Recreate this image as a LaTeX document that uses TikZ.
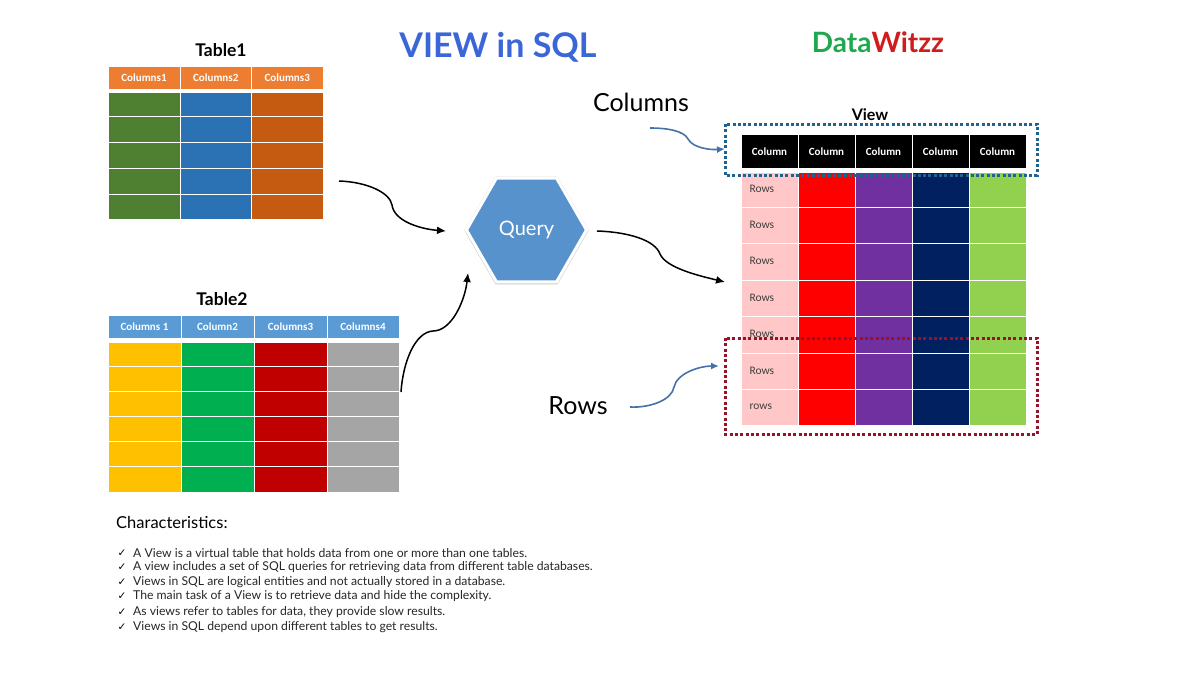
\documentclass[tikz,border=0pt]{standalone}
\usepackage{fontspec}
\usepackage{xcolor}
\setmainfont{Lato}
\newfontfamily\cellfont{Carlito}
\newfontfamily\tickfont{DejaVu Sans}
\usetikzlibrary{shapes.geometric,shadows,arrows.meta}
\definecolor{orangehead}{HTML}{ED7D31}
\definecolor{greenone}{HTML}{4F7F30}
\definecolor{blueone}{HTML}{2B72B5}
\definecolor{orangeone}{HTML}{C55A11}
\definecolor{bluehead}{HTML}{5B9BD5}
\definecolor{amber}{HTML}{FFC000}
\definecolor{greentwo}{HTML}{00B050}
\definecolor{redtwo}{HTML}{C00000}
\definecolor{greytwo}{HTML}{A5A5A5}
\definecolor{pinkrow}{HTML}{FFC7C7}
\definecolor{purplerow}{HTML}{7030A0}
\definecolor{navyrow}{HTML}{002060}
\definecolor{limerow}{HTML}{92D050}
\definecolor{queryblue}{HTML}{5792CD}
\definecolor{titleblue}{HTML}{3A66D8}
\definecolor{notearrow}{HTML}{4472A8}
\definecolor{boxblue}{HTML}{1F6391}
\definecolor{boxred}{HTML}{98102A}
\definecolor{witzgreen}{HTML}{1FA84F}
\definecolor{witzred}{HTML}{D01C1C}
\tikzset{
  cell/.style={draw=white, line width=1pt},
  headcell/.style={text=white, font=\cellfont\bfseries\fontsize{11}{12}\selectfont},
  rowcell/.style={text=black!75, anchor=west, font=\cellfont\fontsize{11.5}{12}\selectfont},
  heading/.style={font=\bfseries\fontsize{17.5}{20}\selectfont},
  flowarrow/.style={-{Latex[length=9pt,width=8pt]}, line width=1.5pt},
  notearrowline/.style={-{Latex[length=8pt,width=7pt]}, notearrow, line width=1.6pt},
  dotbox/.style={line width=3pt, dash pattern=on 3pt off 2.3pt},
  charline/.style={anchor=west, text=black!85, font=\fontsize{12.2}{14}\selectfont},
}
\begin{document}
\begin{tikzpicture}[x=1pt, y=-1pt]
\useasboundingbox (0,0) rectangle (1200,675);
% titles
\node[font=\bfseries\fontsize{34}{40}\selectfont, text=titleblue] (title) at (498,47) {VIEW in SQL};
\node[font=\bfseries\fontsize{28}{33}\selectfont] (brand) at (878,42) {\textcolor{witzgreen}{Data}\textcolor{witzred}{Witzz}};
% Table1
\node[heading] (tablea) at (221,50) {Table1};
\foreach \xa/\xb/\name/\col [count=\i] in {108/180/Columns1/greenone, 180/251.5/Columns2/blueone, 251.5/323/Columns3/orangeone} {
  \draw[cell, fill=orangehead] (\xa,66) rectangle (\xb,89);
  \node[headcell] (tablea\i) at ({(\xa+\xb)/2},77.5) {\name};
  \foreach \ya/\yb in {92/116.5, 116.5/142, 142/168, 168/194, 194/219}
    \draw[cell, fill=\col] (\xa,\ya) rectangle (\xb,\yb);
}
% Table2
\node[heading] (tableb) at (222,299) {Table2};
\foreach \xa/\xb/\name/\col [count=\i] in {108/181/Columns 1/amber, 181/254/Column2/greentwo, 254/327/Columns3/redtwo, 327/399/Columns4/greytwo} {
  \draw[cell, fill=bluehead] (\xa,315) rectangle (\xb,338);
  \node[headcell] (tableb\i) at ({(\xa+\xb)/2},326.5) {\name};
  \foreach \ya/\yb in {342/366, 366/391, 391/416, 416/441, 441/466, 466/492}
    \draw[cell, fill=\col] (\xa,\ya) rectangle (\xb,\yb);
}
% View
\node[font=\bfseries\fontsize{16}{19}\selectfont] (view) at (870,115) {View};
\foreach \xa/\xb/\col [count=\i] in {741/798/pinkrow, 798/855/red, 855/912/purplerow, 912/969/navyrow, 969/1026/limerow} {
  \draw[cell, fill=black] (\xa,134) rectangle (\xb,168.5);
  \node[headcell] (viewhead\i) at ({(\xa+\xb)/2},151.5) {Column};
  \foreach \ya/\yb in {172/207.5, 207.5/243.5, 243.5/280, 280/316, 316/353, 353/389, 389/425}
    \draw[cell, fill=\col] (\xa,\ya) rectangle (\xb,\yb);
}
\foreach \y/\name [count=\i] in {189/Rows, 225/Rows, 261/Rows, 298/Rows, 334/Rows, 371/Rows, 407/rows}
  \node[rowcell] (viewrow\i) at (746,\y) {\name};
\draw[dotbox, boxblue] (725,124) rectangle (1037,175);
\draw[dotbox, boxred] (725,338) rectangle (1037,434);
% query
\node[regular polygon, regular polygon sides=6, minimum size=120pt, inner sep=0pt,
  fill=queryblue, draw=white, line width=3pt, text=white,
  general shadow={fill=black!50, opacity=.4, shadow scale=1.035, shadow yshift=-0.5pt},
  font=\fontsize{20}{24}\selectfont] (query) at (526.5,230) {Query};
% labels
\node[font=\fontsize{25}{30}\selectfont] (columns) at (641,102) {Columns};
\node[font=\fontsize{25}{30}\selectfont] (rows) at (578,406) {Rows};
% connectors
\coordinate (tableaout) at (339,181);
\coordinate (queryina) at (446,231);
\coordinate (tablebout) at (401,392);
\coordinate (queryinb) at (468,273);
\coordinate (queryout) at (597,231);
\coordinate (viewin) at (725,282);
\coordinate (columnsout) at (650,128);
\coordinate (columnsin) at (725,149);
\coordinate (rowsout) at (630,407);
\coordinate (rowsin) at (719,366);
\draw[flowarrow] (tableaout) .. controls (368,182) and (390,193) .. (392,205) .. controls (394,221) and (420,229) .. (queryina);
\draw[flowarrow] (tablebout) .. controls (403,362) and (415,332) .. (433,331) .. controls (452,331) and (465,300) .. (queryinb);
\draw[flowarrow] (queryout) .. controls (628,232) and (655,240) .. (660,254) .. controls (666,268) and (700,276) .. (viewin);
\draw[notearrowline] (columnsout) .. controls (668,128) and (684,131) .. (688,139) .. controls (693,148) and (710,150) .. (columnsin);
\draw[notearrowline] (rowsout) .. controls (650,408) and (672,400) .. (674,387) .. controls (677,373) and (700,366) .. (rowsin);
% characteristics
\node[anchor=west, inner sep=0pt, font=\fontsize{16.5}{19}\selectfont] (chartitle) at (116,522) {Characteristics:};
\foreach \y/\txt [count=\i] in {553/A View is a virtual table that holds data from one or more than one tables.,
  567/A view includes a set of SQL queries for retrieving data from different table databases.,
  582/Views in SQL are logical entities and not actually stored in a database.,
  596/The main task of a View is to retrieve data and hide the complexity.,
  612/{As views refer to tables for data, they provide slow results.},
  627/Views in SQL depend upon different tables to get results.} {
  \node[font=\tickfont\fontsize{10.5}{11}\selectfont, inner sep=0pt] (tick\i) at (122,\y) {✓};
  \node[charline, inner sep=0pt] (char\i) at (133,\y) {\txt};
}
\end{tikzpicture}
\end{document}
